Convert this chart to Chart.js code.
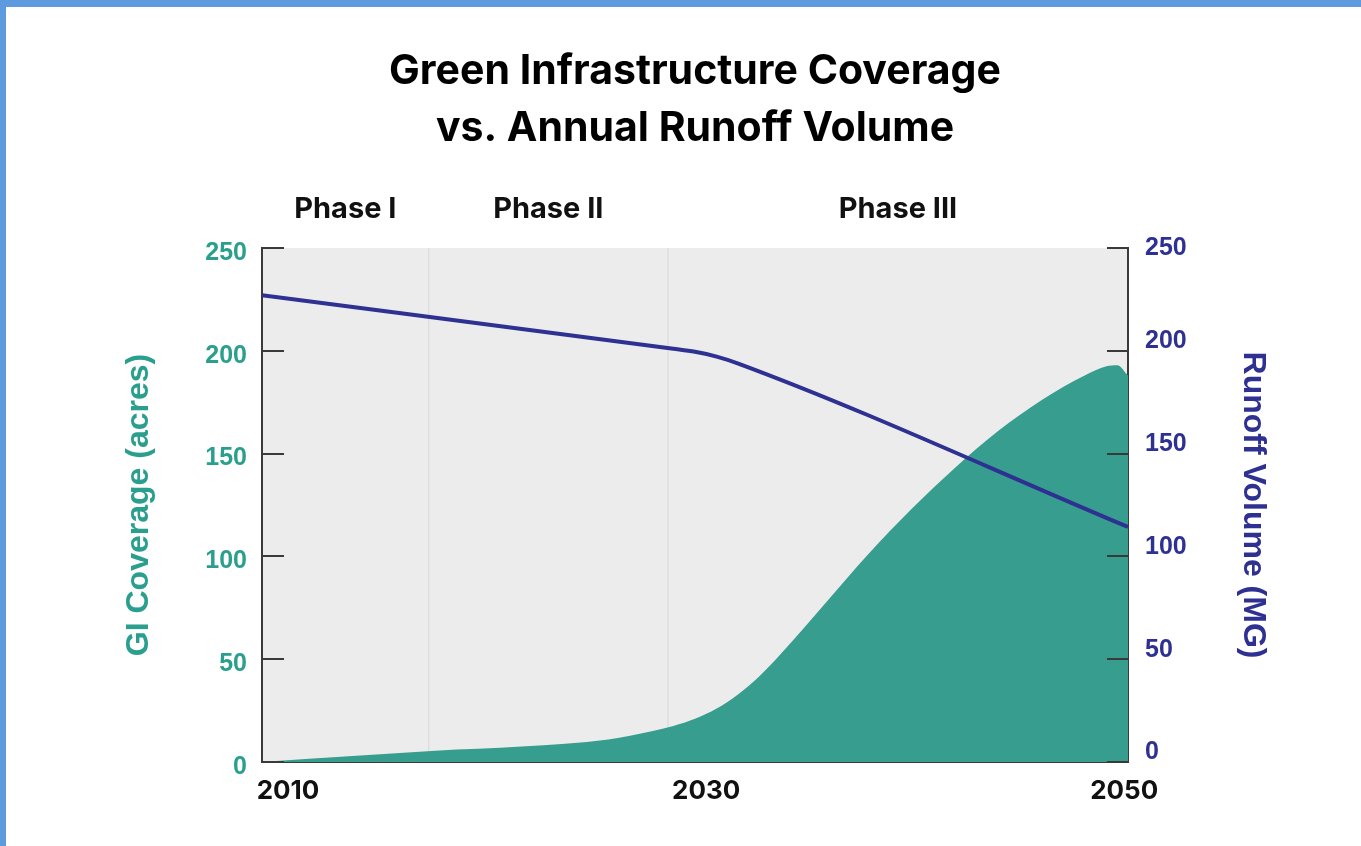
<!DOCTYPE html>
<html>
<head>
<meta charset="utf-8">
<title>Green Infrastructure Coverage vs. Annual Runoff Volume</title>
<script src="https://cdn.jsdelivr.net/npm/chart.js@4.4.1/dist/chart.umd.min.js"></script>
<style>
  html, body { margin: 0; padding: 0; background: #ffffff; }
  #wrap { position: relative; width: 1361px; height: 846px; overflow: hidden; background: #ffffff; }
  #chart { position: absolute; left: 0; top: 0; }
  .edge { position: absolute; background: #5e9bde; }
</style>
</head>
<body>
<div id="wrap">
  <canvas id="chart" width="1361" height="846"></canvas>
  <div class="edge" style="left:0;top:0;width:1361px;height:7px"></div>
  <div class="edge" style="left:0;top:0;width:6px;height:846px"></div>
</div>
<script>
// Green infrastructure coverage (acres) by year
const coverageYears = [2010, 2014, 2018, 2022, 2026, 2028, 2029, 2030, 2031, 2032, 2033, 2034, 2036, 2038, 2040, 2042, 2044, 2046, 2048, 2049, 2049.5, 2050];
const coverageAcres = [0, 2.8, 5.5, 7.5, 11, 15, 17.5, 21, 26, 33, 42, 53, 77, 101, 123, 143, 161, 176, 188, 192.5, 193, 188];

// Annual runoff volume (million gallons) by year
const runoffYears = [2010, 2029, 2030, 2031, 2032, 2050];
const runoffMG = [227, 201, 199.5, 197.2, 193.8, 114.3];

// Axis ticks and phase bands
const yearTicks = [2010, 2030, 2050];
const acreTicks = [0, 50, 100, 150, 200, 250];
const runoffTicks = [0, 50, 100, 150, 200, 250];
const phaseNames = ['Phase I', 'Phase II', 'Phase III'];
const phaseBounds = [2010, 2017.7, 2028.75, 2050];

const TEAL_TEXT = '#2a9f8d';
const TEAL_FILL = '#379e8f';
const NAVY = '#2e3191';
const AXIS = '#3a3a3a';

// Plot background, phase dividers, inward tick marks and phase captions
const frame = {
  id: 'frame',
  beforeDraw(chart) {
    const { ctx, chartArea: a, scales: { x } } = chart;
    ctx.save();
    ctx.fillStyle = '#ececec';
    ctx.fillRect(a.left, a.top, a.right - a.left, a.bottom - a.top);
    ctx.strokeStyle = '#dedede';
    ctx.lineWidth = 1.5;
    phaseBounds.slice(1, -1).forEach(v => {
      const px = x.getPixelForValue(v);
      ctx.beginPath();
      ctx.moveTo(px, a.top);
      ctx.lineTo(px, a.bottom);
      ctx.stroke();
    });
    ctx.restore();
  },
  afterDatasetsDraw(chart) {
    const { ctx, chartArea: a, scales: { y, y2 } } = chart;
    ctx.save();
    ctx.strokeStyle = AXIS;
    ctx.lineWidth = 2;
    y.ticks.forEach(t => {
      const py = Math.round(y.getPixelForValue(t.value));
      ctx.beginPath();
      ctx.moveTo(a.left, py);
      ctx.lineTo(a.left + 22, py);
      ctx.stroke();
    });
    y2.ticks.forEach(t => {
      const py = Math.round(y2.getPixelForValue(t.value));
      ctx.beginPath();
      ctx.moveTo(a.right - 21, py);
      ctx.lineTo(a.right, py);
      ctx.stroke();
    });
    ctx.restore();
  },
  afterDraw(chart) {
    const { ctx, chartArea: a, scales: { x } } = chart;
    ctx.save();
    ctx.font = '700 29px Inter';
    ctx.fillStyle = '#111111';
    ctx.textAlign = 'center';
    ctx.textBaseline = 'middle';
    phaseNames.forEach((name, i) => {
      const cx = (x.getPixelForValue(phaseBounds[i]) + x.getPixelForValue(phaseBounds[i + 1])) / 2;
      ctx.fillText(name, cx, a.top - 39);
    });
    ctx.restore();
  }
};

const axisTitleFont = { family: 'Liberation Sans', weight: 'bold', size: 32, lineHeight: 1.2 };

new Chart(document.getElementById('chart'), {
  type: 'line',
  data: {
    datasets: [
      {
        label: 'GI Coverage (acres)',
        data: coverageYears.map((yr, i) => ({ x: yr, y: coverageAcres[i] })),
        xAxisID: 'x',
        yAxisID: 'y',
        fill: 'origin',
        backgroundColor: TEAL_FILL,
        borderWidth: 0,
        pointRadius: 0,
        cubicInterpolationMode: 'monotone',
        order: 1
      },
      {
        label: 'Runoff Volume (MG)',
        data: runoffYears.map((yr, i) => ({ x: yr, y: runoffMG[i] })),
        xAxisID: 'x',
        yAxisID: 'y2',
        fill: false,
        borderColor: NAVY,
        borderWidth: 4,
        pointRadius: 0,
        cubicInterpolationMode: 'monotone',
        order: 0
      }
    ]
  },
  options: {
    responsive: false,
    animation: false,
    devicePixelRatio: 1,
    layout: { padding: 0 },
    plugins: {
      legend: { display: false },
      tooltip: { enabled: false },
      title: {
        display: true,
        fullSize: false,
        text: ['Green Infrastructure Coverage', 'vs. Annual Runoff Volume'],
        color: '#000000',
        font: { family: 'Inter', weight: '700', size: 41, lineHeight: 57 / 41 },
        padding: { top: 43, bottom: 91 }
      }
    },
    scales: {
      x: { type: 'linear', min: 2010, max: 2050, display: false },
      years: {
        type: 'linear',
        position: 'bottom',
        min: 2008.755,
        max: 2050.18,
        z: 1,
        afterBuildTicks: s => { s.ticks = yearTicks.map(v => ({ value: v })); },
        afterFit: s => { s.height = 84; },
        grid: { display: true, drawOnChartArea: false, drawTicks: false },
        border: { display: true, color: AXIS, width: 2 },
        ticks: {
          autoSkip: false,
          maxRotation: 0,
          padding: 14,
          color: '#111111',
          font: { family: 'Inter', weight: '700', size: 26 },
          callback: v => String(v)
        }
      },
      y: {
        type: 'linear',
        position: 'left',
        min: 0,
        max: 250,
        z: 1,
        afterBuildTicks: s => { s.ticks = acreTicks.map(v => ({ value: v })); },
        afterFit: s => { s.width = 262; },
        grid: { display: true, drawOnChartArea: false, drawTicks: false },
        border: { display: true, color: AXIS, width: 2 },
        ticks: {
          padding: 15,
          labelOffset: 5,
          color: TEAL_TEXT,
          font: { family: 'Liberation Sans', weight: 'bold', size: 25 }
        },
        title: {
          display: true,
          text: 'GI Coverage (acres)',
          color: TEAL_TEXT,
          font: axisTitleFont,
          padding: { top: 120, bottom: 0 }
        }
      },
      y2: {
        type: 'linear',
        position: 'right',
        min: 0,
        max: 250,
        z: 1,
        afterBuildTicks: s => { s.ticks = runoffTicks.map(v => ({ value: v })); },
        afterFit: s => { s.width = 233; },
        grid: { display: true, drawOnChartArea: false, drawTicks: false },
        border: { display: true, color: AXIS, width: 2 },
        ticks: {
          padding: 17,
          color: NAVY,
          font: { family: 'Liberation Sans', weight: 'bold', size: 25, lineHeight: '19px' },
          // the top label sits level with its tick; the others ride just above theirs
          callback: v => (v === runoffTicks[runoffTicks.length - 1] ? String(v) : [String(v), ''])
        },
        title: {
          display: true,
          text: 'Runoff Volume (MG)',
          color: NAVY,
          font: axisTitleFont,
          padding: { top: 89, bottom: 0 }
        }
      }
    }
  },
  plugins: [frame]
});
</script>
</body>
</html>
